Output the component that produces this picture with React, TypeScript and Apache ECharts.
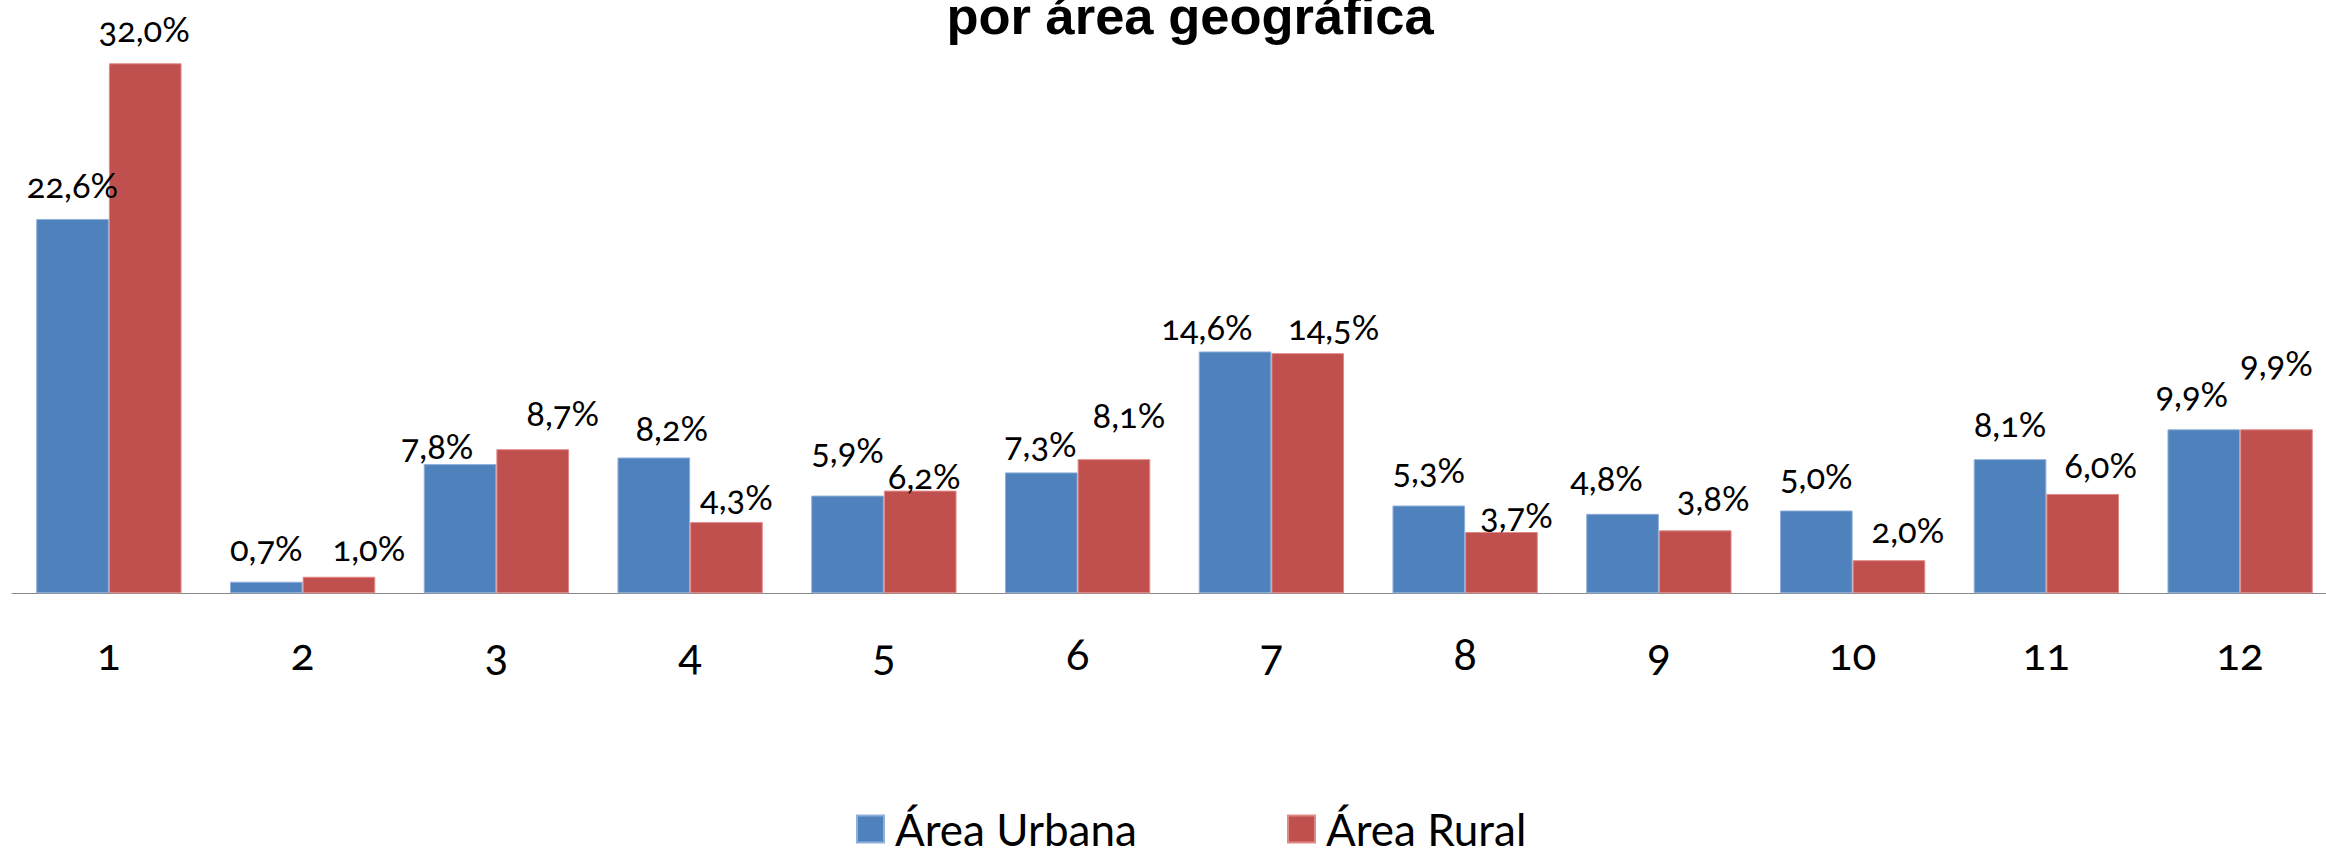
import React, { useEffect, useRef } from 'react';
import * as echarts from 'echarts';

const categories = ['1', '2', '3', '4', '5', '6', '7', '8', '9', '10', '11', '12'];
const seriesNames = ['Área Urbana', 'Área Rural'];
const urbanValues = [22.6, 0.7, 7.8, 8.2, 5.9, 7.3, 14.6, 5.3, 4.8, 5.0, 8.1, 9.9];
const ruralValues = [32.0, 1.0, 8.7, 4.3, 6.2, 8.1, 14.5, 3.7, 3.8, 2.0, 6.0, 9.9];
const titleText = 'por área geográfica';

// manual label nudges (px) as placed in the original chart
const urbanLabelShift = [
  [0, 0], [0, 0], [-23, 16], [18, 5], [0, -12], [-1, 6],
  [-28, 10], [0, -2], [-16, -2], [0, 0], [0, -1], [-12, -1],
];
const ruralLabelShift = [
  [-1, 0], [30, 5], [30, -2], [10, 9], [4, 19], [15, -10],
  [26, 8], [15, 17], [18, 2], [19, 4], [18, 5], [0, -32],
];

const BLUE = '#4F81BD';
const RED = '#C0504D';
const FONT = 'Lato';

const fmt = (v: number) => v.toFixed(1).replace('.', ',') + '%';

export default function App() {
  const ref = useRef<HTMLDivElement>(null);

  useEffect(() => {
    document.body.style.overflow = 'hidden';
    document.documentElement.style.overflow = 'hidden';
    const chart = echarts.init(ref.current!, null, { renderer: 'svg' });

    const mk = (vals: number[], shifts: number[][]) =>
      vals.map((v, i) => ({ value: v, label: { offset: shifts[i] } }));

    const labelStyle = {
      show: true,
      position: 'top',
      distance: 17,
      fontFamily: FONT,
      fontSize: 34.5,
      color: '#000',
      formatter: (p: any) => fmt(p.value),
    };

    const legendBase = {
      top: 807,
      padding: 0,
      itemWidth: 27,
      itemHeight: 27,
      icon: 'rect',
      selectedMode: false,
      textStyle: { fontFamily: FONT, fontSize: 44, color: '#000', padding: [0, 0, 0, 6] },
    };

    chart.setOption({
      animation: false,
      backgroundColor: '#fff',
      graphic: [
        {
          type: 'text',
          x: 1190,
          y: 15,
          style: {
            text: titleText,
            fontFamily: 'Liberation Sans',
            fontWeight: 'bold',
            fontSize: 52.5,
            fill: '#000',
            textAlign: 'center',
            align: 'center',
            textVerticalAlign: 'middle',
            verticalAlign: 'middle',
          },
        },
      ],
      legend: [
        { ...legendBase, left: 856, data: [seriesNames[0]] },
        { ...legendBase, left: 1287, data: [seriesNames[1]] },
      ],
      grid: { left: 12, right: 0, top: 13.6, bottom: 254.7, containLabel: false },
      xAxis: {
        type: 'category',
        data: categories,
        axisLine: { lineStyle: { color: '#8a8a8a', width: 1 } },
        axisTick: { length: 15, lineStyle: { color: '#8a8a8a', width: 1 } },
        axisLabel: { fontFamily: FONT, fontSize: 44, color: '#000', margin: 38 },
      },
      yAxis: { type: 'value', min: 0, max: 35, show: false, splitLine: { show: false } },
      series: [
        {
          name: seriesNames[0],
          type: 'bar',
          data: mk(urbanValues, urbanLabelShift),
          barGap: '0%',
          barCategoryGap: '25%',
          itemStyle: { color: BLUE, borderColor: '#8fb0da', borderWidth: 1 },
          label: labelStyle,
        },
        {
          name: seriesNames[1],
          type: 'bar',
          data: mk(ruralValues, ruralLabelShift),
          barGap: '0%',
          barCategoryGap: '25%',
          itemStyle: { color: RED, borderColor: '#e08a88', borderWidth: 1 },
          label: labelStyle,
        },
      ],
    });

    return () => chart.dispose();
  }, []);

  return (
    <>
      <style>{`.chart-box text { font-variant-numeric: oldstyle-nums !important; }`}</style>
      <div
        ref={ref}
        className="chart-box"
        style={{ position: 'fixed', left: 0, top: 0, width: 2337, height: 848 }}
      />
    </>
  );
}
